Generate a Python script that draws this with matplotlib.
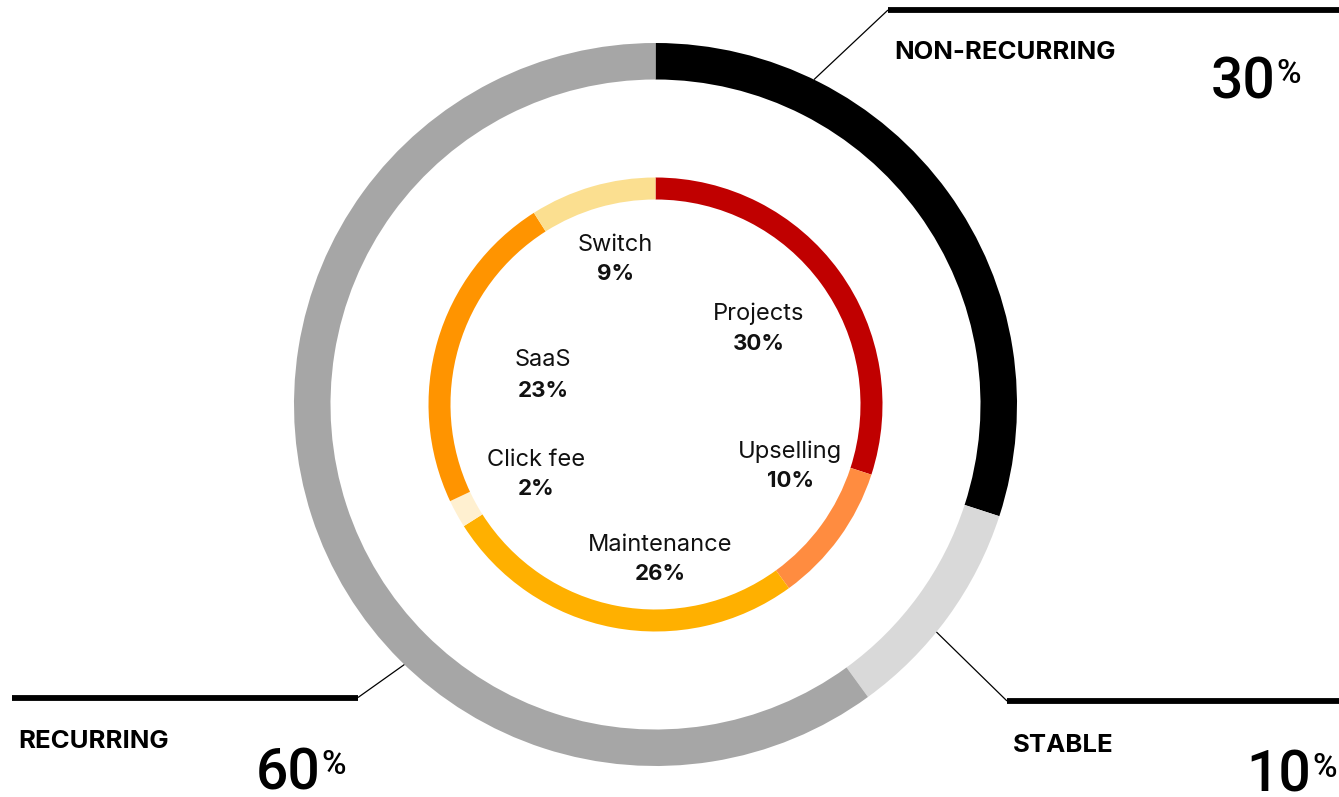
import numpy as np
import matplotlib
matplotlib.use("Agg")
import matplotlib.pyplot as plt

# Canvas in pixel units
W, H = 1339, 797

# Outer ring: revenue character
group_labels = ["NON-RECURRING", "STABLE", "RECURRING"]
group_values = [30, 10, 60]
group_colors = ["#000000", "#d9d9d9", "#a6a6a6"]

# Inner ring: revenue streams
stream_labels = ["Projects", "Upselling", "Maintenance", "Click fee", "SaaS", "Switch"]
stream_values = [30, 10, 26, 2, 23, 9]
stream_colors = ["#c00000", "#ff8c40", "#ffb000", "#fff0d0", "#ff9400", "#fbdf90"]

plt.rcParams["font.family"] = ["Inter", "DejaVu Sans"]

fig = plt.figure(figsize=(W / 100, H / 100), dpi=100)
ax = fig.add_axes([0, 0, 1, 1])

cx, cy = 655.5, H - 404.5
R_OUT, W_OUT = 361.5, 36.5
R_IN, W_IN = 227.0, 22.0

ax.pie(group_values, colors=group_colors, radius=R_OUT, center=(cx, cy),
       startangle=90, counterclock=False,
       wedgeprops=dict(width=W_OUT, linewidth=0))
ax.pie(stream_values, colors=stream_colors, radius=R_IN, center=(cx, cy),
       startangle=90, counterclock=False,
       wedgeprops=dict(width=W_IN, linewidth=0))

ax.set_xlim(0, W)
ax.set_ylim(0, H)
ax.set_aspect("equal")
ax.axis("off")


def ring_point(angle_cw_deg, r):
    a = np.deg2rad(angle_cw_deg)
    return cx + r * np.sin(a), cy + r * np.cos(a)


# Stream labels inside the inner ring: (x, name baseline, value baseline) in px
stream_pos = {
    "Projects": (759, 320, 350),
    "Upselling": (790, 458, 487),
    "Maintenance": (660.5, 551, 580),
    "Click fee": (536, 466, 495),
    "SaaS": (543, 366, 397),
    "Switch": (615.5, 251, 280),
}
for name, val in zip(stream_labels, stream_values):
    x, yb1, yb2 = stream_pos[name]
    ax.text(x, H - yb1, name, ha="center", va="baseline", fontsize=17,
            color="#111111")
    ax.text(x, H - yb2, f"{val}%", ha="center", va="baseline", fontsize=16,
            fontweight="bold", color="#111111")

# Leader lines and callouts for the outer ring
callouts = {
    # angle on ring, elbow (px), bar end x (px), title pos, number baseline,
    # right edge of the percent sign
    "NON-RECURRING": dict(angle=26, elbow=(888, 10), bar_end=1339,
                          title=(894, 52), base=98, right=1301),
    "STABLE": dict(angle=129, elbow=(1007, 701), bar_end=1339,
                   title=(1013, 746), base=792, right=1337),
    "RECURRING": dict(angle=224, elbow=(358, 697.5), bar_end=12,
                      title=(18, 742), base=789, right=346),
}

fig.canvas.draw()
renderer = fig.canvas.get_renderer()
inv = ax.transData.inverted()
big_font = ["Roboto", "DejaVu Sans"]

for name, val in zip(group_labels, group_values):
    c = callouts[name]
    ax_, ay_ = ring_point(c["angle"], R_OUT)
    ex, ey = c["elbow"]
    ax.plot([ax_, ex], [ay_, H - ey], color="black", lw=0.9,
            solid_capstyle="butt")
    ax.plot([ex, c["bar_end"]], [H - ey, H - ey], color="black", lw=4.2,
            solid_capstyle="butt")
    tx, ty = c["title"]
    ax.text(tx, H - ty, name, ha="left", va="center", fontsize=18.5,
            fontweight="bold", color="black")
    base = H - c["base"]
    pct = ax.text(c["right"], base + 40, "%", ha="right", va="top",
                  fontsize=24, fontweight="medium", color="black",
                  family=big_font)
    bb = pct.get_window_extent(renderer=renderer)
    px0, _ = inv.transform((bb.x0, bb.y0))
    ax.text(px0 - 1, base, f"{val}", ha="right", va="baseline", fontsize=41,
            fontweight="medium", color="black", family=big_font)

fig.savefig("out.png", dpi=100, facecolor="white")
